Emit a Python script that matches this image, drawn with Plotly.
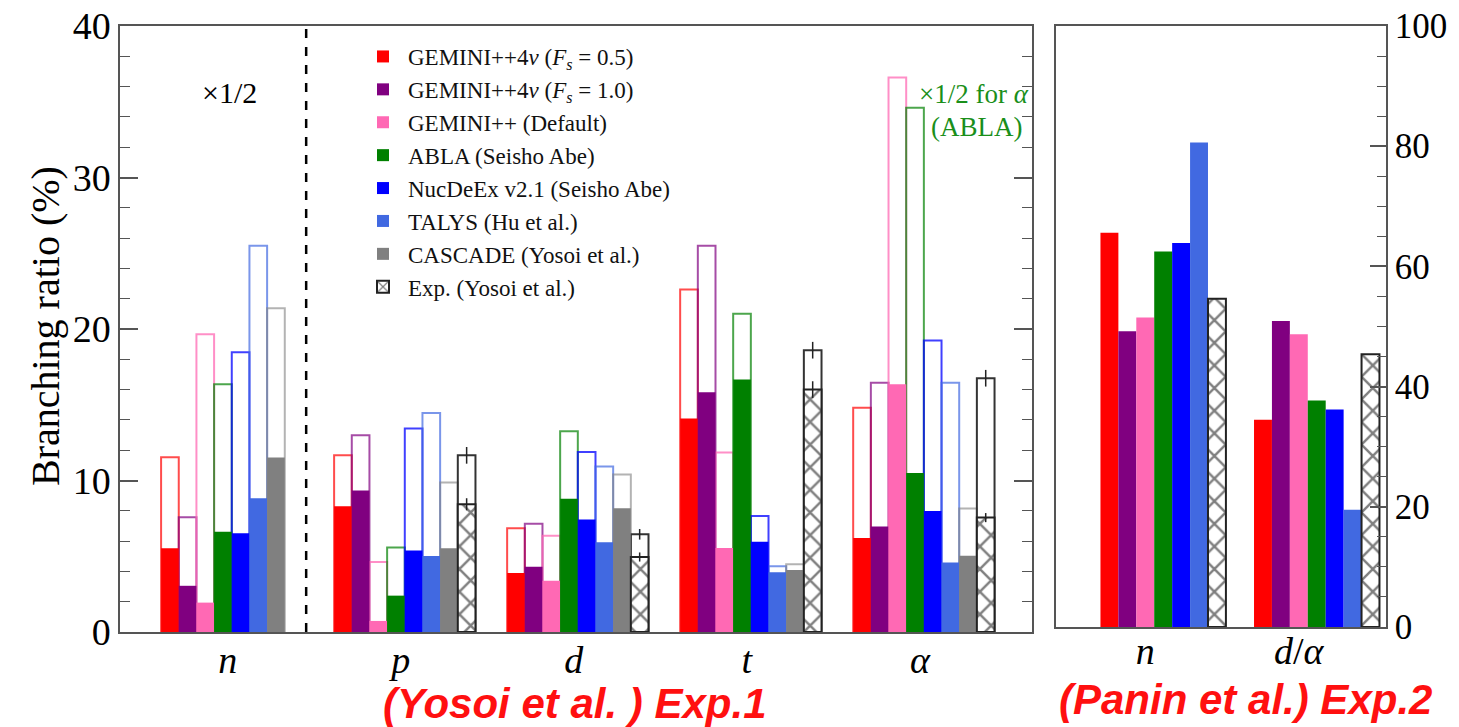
import plotly.graph_objects as go

# ---------------- data ----------------
cats1 = ["n", "p", "d", "t", "α"]
cat1_labels = ["<i>n</i>", "<i>p</i>", "<i>d</i>", "<i>t</i>", "<i>α</i>"]

models = ["GEMINI++4<i>ν</i> (<i>F<sub>s</sub></i> = 0.5)",
          "GEMINI++4<i>ν</i> (<i>F<sub>s</sub></i> = 1.0)",
          "GEMINI++ (Default)",
          "ABLA (Seisho Abe)",
          "NucDeEx v2.1 (Seisho Abe)",
          "TALYS (Hu et al.)",
          "CASCADE (Yosoi et al.)"]
exp_name = "Exp. (Yosoi et al.)"

colors = ["#FF0000", "#800080", "#FF69B4", "#008000", "#0000FF", "#4169E1", "#808080"]
outline_colors = ["rgba(255,0,0,0.7)", "rgba(128,0,128,0.7)", "rgba(255,105,180,0.75)",
                  "rgba(0,128,0,0.7)", "rgba(0,0,255,0.75)", "rgba(65,105,225,0.7)",
                  "rgba(128,128,128,0.6)"]

# Exp.1 (Yosoi et al.): filled (lower) and outlined (upper) values, %
gem05_fill = [5.52, 8.3, 3.9, 14.1, 6.2]
gem05_top = [11.54, 11.66, 6.84, 22.6, 14.8]
gem10_fill = [3.05, 9.34, 4.3, 15.83, 6.96]
gem10_top = [7.57, 12.98, 7.15, 25.5, 16.46]
default_fill = [1.94, 0.73, 3.38, 5.54, 16.36]
default_top = [19.65, 4.62, 6.36, 11.85, 36.6]
abla_fill = [6.62, 2.4, 8.8, 16.67, 10.5]
abla_top = [16.36, 5.58, 13.25, 21.0, 34.6]
nucdeex_fill = [6.51, 5.38, 7.42, 5.95, 7.99]
nucdeex_top = [18.46, 13.44, 11.88, 7.66, 19.24]
talys_fill = [8.83, 5.01, 5.92, 3.95, 4.58]
talys_top = [25.5, 14.46, 10.93, 4.34, 16.46]
cascade_fill = [11.52, 5.52, 8.17, 4.09, 5.04]
cascade_top = [21.37, 9.87, 10.4, 4.48, 8.16]
exp_fill = [None, 8.43, 4.95, 16.0, 7.55]
exp_fill_err = [0, 0.4, 0.3, 0.55, 0.3]
exp_top = [None, 11.66, 6.45, 18.6, 16.75]
exp_top_err = [0, 0.55, 0.35, 0.55, 0.55]

fills1 = [gem05_fill, gem10_fill, default_fill, abla_fill, nucdeex_fill, talys_fill, cascade_fill]
tops1 = [gem05_top, gem10_top, default_top, abla_top, nucdeex_top, talys_top, cascade_top]

# Exp.2 (Panin et al.), %
cats2 = ["n", "d/α"]
cat2_labels = ["<i>n</i>", "<i>d</i>/<i>α</i>"]
gem05_2 = [65.6, 34.5]
gem10_2 = [49.2, 50.9]
default_2 = [51.5, 48.7]
abla_2 = [62.5, 37.7]
nucdeex_2 = [63.9, 36.2]
talys_2 = [80.6, 19.5]
exp_2 = [54.6, 45.4]
vals2 = [gem05_2, gem10_2, default_2, abla_2, nucdeex_2, talys_2]

# ---------------- figure ----------------
W, H = 1459, 727
SERIF = "Liberation Serif, Times New Roman, serif"
fig = go.Figure()

hatch = dict(shape="x", fgcolor="black", bgcolor="white", size=16, solidity=0.28)

# left panel: outlines (upper values)
for i in range(7):
    fig.add_trace(go.Bar(x=cats1, y=tops1[i], offsetgroup=str(i), showlegend=False,
                         marker=dict(color="rgba(255,255,255,0)",
                                     line=dict(color=outline_colors[i], width=2)),
                         xaxis="x", yaxis="y", hoverinfo="skip"))
fig.add_trace(go.Bar(x=cats1, y=exp_top, offsetgroup="7", showlegend=False,
                     marker=dict(color="rgba(255,255,255,0)", line=dict(color="#333", width=2)),
                     error_y=dict(type="data", array=exp_top_err, color="#222", thickness=1.5, width=0),
                     xaxis="x", yaxis="y", hoverinfo="skip"))
# left panel: filled (lower values)
for i in range(7):
    fig.add_trace(go.Bar(x=cats1, y=fills1[i], offsetgroup=str(i), name=models[i],
                         legendrank=i + 1,
                         marker=dict(color=colors[i], line=dict(width=0)),
                         xaxis="x", yaxis="y"))
fig.add_trace(go.Bar(x=cats1, y=exp_fill, offsetgroup="7", name=exp_name, legendrank=8,
                     marker=dict(color="white", line=dict(color="#222", width=2), pattern=hatch),
                     error_y=dict(type="data", array=exp_fill_err, color="#222", thickness=1.5, width=0),
                     xaxis="x", yaxis="y"))

# right panel
for i in range(6):
    fig.add_trace(go.Bar(x=cats2, y=vals2[i], offsetgroup=str(i), showlegend=False,
                         marker=dict(color=colors[i], line=dict(width=0)),
                         xaxis="x2", yaxis="y2"))
fig.add_trace(go.Bar(x=cats2, y=exp_2, offsetgroup="7", showlegend=False,
                     marker=dict(color="white", line=dict(color="#222", width=2), pattern=hatch),
                     xaxis="x2", yaxis="y2"))

axcol = "#555"
tickfont_l = dict(family=SERIF, size=38, color="black")
tickfont_r = dict(family=SERIF, size=35, color="black")
catfont = dict(family=SERIF, size=38, color="black")

fig.update_layout(
    width=W, height=H,
    margin=dict(l=0, r=0, t=0, b=0),
    paper_bgcolor="white", plot_bgcolor="white",
    barmode="group", bargap=0.183, bargroupgap=0,
    showlegend=True,
    legend=dict(x=358 / W, y=1 - 35 / H, xanchor="left", yanchor="top",
                font=dict(family=SERIF, size=23, color="#111"),
                bgcolor="rgba(0,0,0,0)", tracegroupgap=0, itemwidth=40,
                traceorder="normal"),
    xaxis=dict(domain=[120 / W, 1032 / W], range=[-0.646, 4.625],
               tickmode="array", tickvals=cats1, ticktext=cat1_labels,
               tickfont=catfont, ticks="", showline=True, linecolor=axcol, linewidth=1.5,
               mirror=True, showgrid=False, zeroline=False, automargin=False,
               ticklabelstandoff=-6, ticklabelshift=-4),
    yaxis=dict(domain=[1 - 632 / H, 1 - 26 / H], range=[0, 40], dtick=10,
               tickfont=tickfont_l, ticks="inside", ticklen=18, tickwidth=1.5, tickcolor=axcol,
               minor=dict(dtick=2, ticks="inside", ticklen=10, tickwidth=1.2, tickcolor=axcol),
               showline=True, linecolor=axcol, linewidth=1.5, mirror="ticks",
               showgrid=False, zeroline=False, automargin=False),
    xaxis2=dict(domain=[1056 / W, 1386 / W], range=[-0.698, 1.451], anchor="y2",
                tickmode="array", tickvals=cats2, ticktext=cat2_labels,
                tickfont=catfont, ticks="", showline=True, linecolor=axcol, linewidth=1.5,
                mirror=True, showgrid=False, zeroline=False, automargin=False,
                ticklabelstandoff=-10, ticklabelshift=-18),
    yaxis2=dict(domain=[1 - 627 / H, 1 - 26 / H], range=[0, 100], dtick=20, anchor="x2",
                side="right",
                tickfont=tickfont_r, ticks="inside", ticklen=16, tickwidth=1.5, tickcolor=axcol,
                minor=dict(dtick=5, ticks="inside", ticklen=9, tickwidth=1.2, tickcolor=axcol),
                showline=True, linecolor=axcol, linewidth=1.5, mirror=True,
                showgrid=False, zeroline=False, automargin=False),
)

# dashed separator between n and p
fig.add_shape(type="line", xref="x", yref="y", x0=0.43, x1=0.43, y0=0, y1=40,
              line=dict(color="black", width=2.5, dash="dash"))

def ann(text, x, y, size, color="black", family=SERIF, xanchor="center", angle=0):
    return dict(text=text, x=x / W, y=1 - y / H, xref="paper", yref="paper",
                xanchor=xanchor, yanchor="middle", textangle=angle, showarrow=False,
                font=dict(family=family, size=size, color=color))

SANS = "Liberation Sans, Arial, sans-serif"
annotations = [
    ann("Branching ratio (%)", 46, 326, 40, angle=-90),
    ann("×1/2", 229, 92, 30),
    ann("×1/2 for <i>α</i>", 1031, 94, 27, color="#1a8f1a", xanchor="right"),
    ann("(ABLA)", 1024, 127, 27, color="#1a8f1a", xanchor="right"),
    ann("<b><i>(Yosoi et al. ) Exp.1</i></b>", 575, 703, 42, color="#FF1010", family=SANS),
    ann("<b><i>(Panin et al.) Exp.2</i></b>", 1245, 699, 42, color="#FF1010", family=SANS),
]
fig.update_layout(annotations=annotations)

fig.write_html("out.html")
